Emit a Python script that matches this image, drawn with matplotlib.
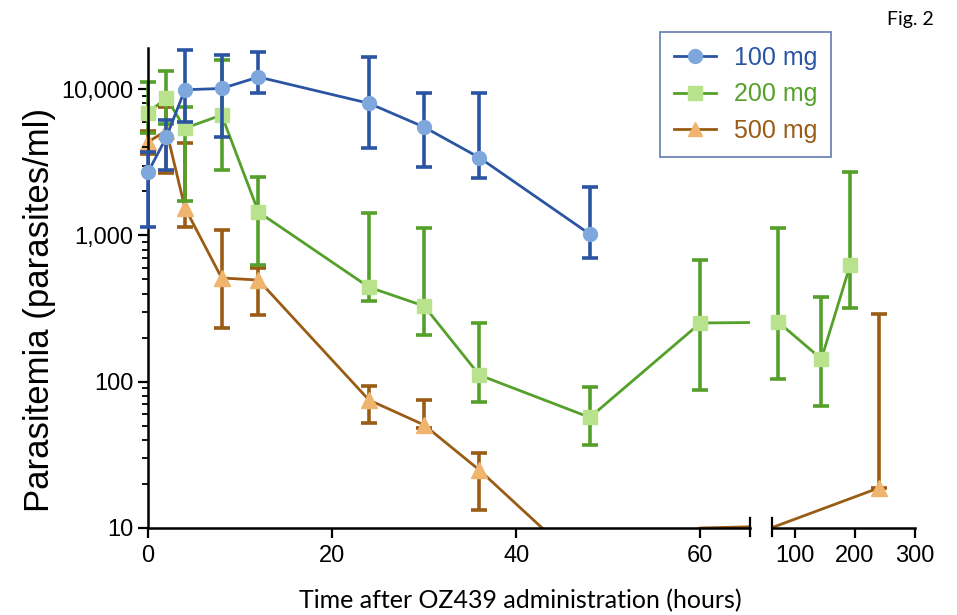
import numpy as np
import matplotlib.pyplot as plt
from matplotlib.lines import Line2D
from matplotlib.ticker import FixedLocator, LogLocator, NullFormatter

plt.rcParams['font.family'] = ['Liberation Sans', 'DejaVu Sans']

# data (hours, parasites/ml, error bar low/high)
t_100 = np.array([0, 2, 4, 8, 12, 24, 30, 36, 48])
y_100 = np.array([2700, 4700, 9900, 10100, 12100, 8000, 5500, 3400, 1020])
lo_100 = np.array([1140, 2800, 5950, 4700, 9400, 3950, 2940, 2470, 700])
hi_100 = np.array([3700, 6150, 18500, 17100, 17900, 16600, 9400, 9400, 2140])

t_200 = np.array([0, 2, 4, 8, 12, 24, 30, 36, 48, 60, 72, 144, 192])
y_200 = np.array([6900, 8700, 5400, 6650, 1445, 443, 329, 111, 57, 252, 256, 143, 628])
lo_200 = np.array([5000, 5800, 1720, 2800, 628, 356, 208, 73, 37, 88, 104, 68, 319])
hi_200 = np.array([11200, 13300, 7500, 15800, 2500, 1420, 1120, 252, 92, 680, 1120, 379, 2710])

t_500 = np.array([0, 2, 4, 8, 12, 24, 30, 36, 48, 60, 240])
y_500 = np.array([4350, 5200, 1550, 512, 495, 75, 50.6, 24.9, 5, 10, 18.8])
lo_500 = np.array([3600, 2670, 1140, 233, 286, 52, 48, 13.3, 5, 10, 18.8])
hi_500 = np.array([5200, 7560, 4300, 1090, 598, 93.5, 75, 32.6, 5, 10, 292])
no_marker_500 = [48, 60]  # points at/below the axis floor, drawn without symbol

labels = ['100 mg', '200 mg', '500 mg']
dark = ['#2b55a3', '#54a02a', '#9a5c14']
light = ['#7ea7dd', '#b8e28c', '#efb56e']
markers = ['o', 's', '^']
series = [(t_100, y_100, lo_100, hi_100),
          (t_200, y_200, lo_200, hi_200),
          (t_500, y_500, lo_500, hi_500)]

W, H = 957, 615
fig = plt.figure(figsize=(W / 100, H / 100), dpi=100)
y0, y1 = 528, 48
axL = fig.add_axes([148 / W, (H - y0) / H, (750 - 148) / W, (y0 - y1) / H])
axR = fig.add_axes([772 / W, (H - y0) / H, (915 - 772) / W, (y0 - y1) / H])
axL.set_xlim(0, 65.4)
axR.set_xlim(61.7, 300)

for ax in (axL, axR):
    ax.set_yscale('log')
    ax.set_ylim(10, 19100)
    lo_x, hi_x = ax.get_xlim()
    for k, (t, y, lo, hi) in enumerate(series):
        z = 3 - k
        ax.plot(t, y, color=dark[k], lw=2, zorder=z)
        m = (t >= lo_x) & (t <= hi_x)
        if k == 2:
            m &= ~np.isin(t, no_marker_500)
        eb = ax.errorbar(t[m], y[m], yerr=[y[m] - lo[m], hi[m] - y[m]], fmt='none',
                         ecolor=dark[k], elinewidth=2.6, capsize=5.5, capthick=2.6, zorder=z)
        for art in list(eb.lines[1]) + list(eb.lines[2]):
            art.set_clip_on(False)
        ax.plot(t[m], y[m], ls='none', marker=markers[k], ms=10 if k != 2 else 11,
                mfc=light[k], mec=light[k], zorder=z + 0.5, clip_on=False)
    for s in ('top', 'right'):
        ax.spines[s].set_visible(False)
    ax.spines['bottom'].set_linewidth(1.8)
    ax.spines['left'].set_linewidth(1.8)
    ax.tick_params(axis='both', which='major', labelsize=17, width=1.6, length=7)
    ax.tick_params(axis='y', which='minor', width=1.3, length=4)

axL.xaxis.set_major_locator(FixedLocator([0, 20, 40, 60]))
axL.yaxis.set_major_locator(FixedLocator([10, 100, 1000, 10000]))
axL.set_yticklabels(['10', '100', '1,000', '10,000'])
axL.yaxis.set_minor_locator(LogLocator(base=10, subs=np.arange(2, 10)))
axL.yaxis.set_minor_formatter(NullFormatter())
axL.tick_params(axis='x', pad=5)

axR.spines['left'].set_visible(False)
axR.tick_params(axis='y', which='both', left=False, labelleft=False)
axR.xaxis.set_major_locator(FixedLocator([100, 200, 300]))
axR.tick_params(axis='x', pad=5)

# broken axis end marks
axL.plot([1, 1], [-0.017, 0.02], transform=axL.transAxes, color='k', lw=1.6, clip_on=False)
axR.plot([0, 0], [-0.017, 0.02], transform=axR.transAxes, color='k', lw=1.6, clip_on=False)

fig.text(40 / W, 1 - 310 / H, 'Parasitemia (parasites/ml)', rotation=90,
         ha='center', va='center', fontsize=25)
fig.text(520 / W, 1 - 601 / H, 'Time after OZ439 administration (hours)',
         ha='center', va='center', fontsize=18, family=['Lato', 'DejaVu Sans'])
fig.text(910 / W, 1 - 20 / H, 'Fig. 2', ha='center', va='center', fontsize=14,
         family=['Lato', 'DejaVu Sans'])

handles = [Line2D([], [], color=dark[k], lw=2, marker=markers[k], ms=10,
                  mfc=light[k], mec=light[k]) for k in range(3)]
leg = fig.legend(handles, labels, loc='upper left', bbox_to_anchor=(660 / W, 1 - 32 / H),
                 borderaxespad=0, fontsize=18, frameon=True, fancybox=False,
                 handlelength=1.7, borderpad=0.55, labelspacing=0.5, handletextpad=0.7)
leg.get_frame().set_edgecolor('#3a5a9a')
leg.get_frame().set_linewidth(1.2)
for txt, c in zip(leg.get_texts(), dark):
    txt.set_color(c)

fig.savefig('out.png', dpi=100)
